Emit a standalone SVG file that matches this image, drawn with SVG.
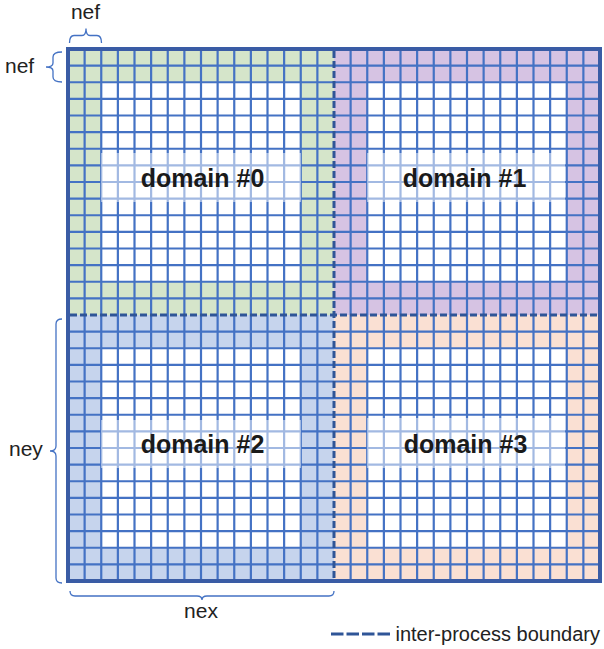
<svg xmlns="http://www.w3.org/2000/svg" xmlns:xlink="http://www.w3.org/1999/xlink" width="604" height="649" viewBox="0 0 604 649">
<style>
.grid{fill:none;stroke:#4472C4;stroke-width:2.2}
.band{fill:#fff;fill-opacity:0.5}
.dom{font-family:"Liberation Sans",Arial,sans-serif;font-weight:bold;font-size:25px;fill:#1a1a1a;text-anchor:middle}
.lbl{font-family:"Liberation Sans",Arial,sans-serif;font-size:21px;fill:#222}
.brace{fill:none;stroke:#4472C4;stroke-width:1.3}
.bound{fill:none;stroke:#2F5597;stroke-width:3;stroke-dasharray:7 3}
</style>
<defs>
<path id="g" d="M16.625 0V266M33.25 0V266M49.875 0V266M66.5 0V266M83.125 0V266M99.75 0V266M116.375 0V266M133 0V266M149.625 0V266M166.25 0V266M182.875 0V266M199.5 0V266M216.125 0V266M232.75 0V266M249.375 0V266M0 16.625H266M0 33.25H266M0 49.875H266M0 66.5H266M0 83.125H266M0 99.75H266M0 116.375H266M0 133H266M0 149.625H266M0 166.25H266M0 182.875H266M0 199.5H266M0 216.125H266M0 232.75H266M0 249.375H266"/>
</defs>
<rect width="604" height="649" fill="#fff"/>
<g id="domain0">
<rect x="68" y="49" width="266" height="266" fill="#D5E5CA"/>
<rect x="101.25" y="82.25" width="199.5" height="199.5" fill="#fff"/>
<use xlink:href="#g" x="68" y="49" class="grid"/>
<rect class="band" x="101" y="153" width="200" height="49"/>
<text class="dom" x="202.5" y="187">domain #0</text>
</g>
<g id="domain1">
<rect x="334" y="49" width="266" height="266" fill="#D6C3E3"/>
<rect x="367.25" y="82.25" width="199.5" height="199.5" fill="#fff"/>
<use xlink:href="#g" x="334" y="49" class="grid"/>
<rect class="band" x="367" y="153" width="198" height="49"/>
<text class="dom" x="464.5" y="187">domain #1</text>
</g>
<g id="domain2">
<rect x="68" y="315" width="266" height="266" fill="#C6D4ED"/>
<rect x="101.25" y="348.25" width="199.5" height="199.5" fill="#fff"/>
<use xlink:href="#g" x="68" y="315" class="grid"/>
<rect class="band" x="101" y="420" width="200" height="48"/>
<text class="dom" x="202.5" y="453">domain #2</text>
</g>
<g id="domain3">
<rect x="334" y="315" width="266" height="266" fill="#FAE0D3"/>
<rect x="367.25" y="348.25" width="199.5" height="199.5" fill="#fff"/>
<use xlink:href="#g" x="334" y="315" class="grid"/>
<rect class="band" x="367" y="418" width="198" height="50"/>
<text class="dom" x="465.5" y="453">domain #3</text>
</g>
<g id="boundaries">
<rect x="68" y="49" width="532" height="532" fill="none" stroke="#3A5CA5" stroke-width="4"/>
<path class="bound" d="M334 51V579M70 315H598"/>
</g>
<g id="annotations">
<path class="brace" d="M69.5 43Q69.5 35.5 74 35.5H82Q86 35.5 86 28.5Q86 35.5 90 35.5H97Q101.5 35.5 101.5 43"/>
<text class="lbl" x="85.5" y="19" text-anchor="middle">nef</text>
<path class="brace" d="M62 52Q53 52 53 57V63Q53 67 46 67Q53 67 53 71V77Q53 82 62 82"/>
<text class="lbl" x="5" y="73">nef</text>
<path class="brace" d="M62 319Q56 319 56 324V446Q56 451 50 451Q56 451 56 456V578Q56 583 62 583"/>
<text class="lbl" x="9" y="456">ney</text>
<path class="brace" d="M70 591Q70 596 75 596H197Q202 596 202 600Q202 596 207 596H329Q334 596 334 591"/>
<text class="lbl" x="201" y="618" text-anchor="middle">nex</text>
</g>
<g id="legend">
<path class="bound" d="M331 634H390" style="stroke-dasharray:12.5 3"/>
<text class="lbl" x="600" y="641" text-anchor="end" style="font-size:20px">inter-process boundary</text>
</g>
</svg>
